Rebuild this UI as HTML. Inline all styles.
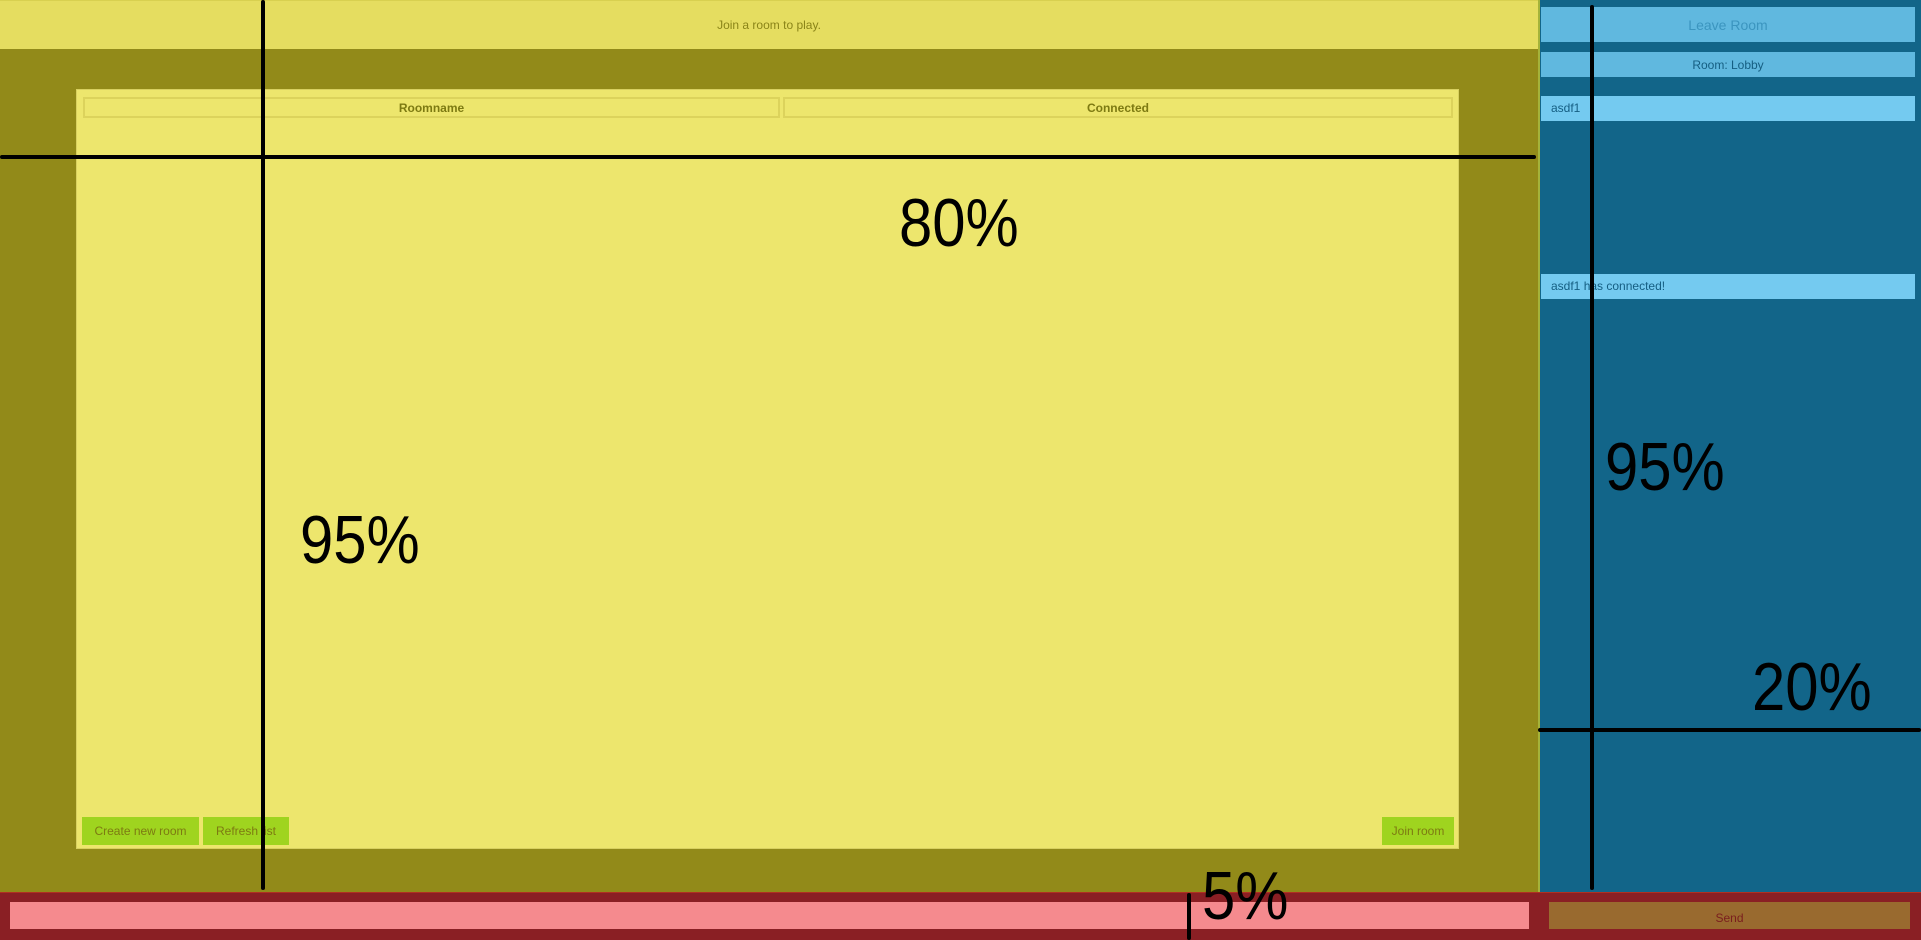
<!DOCTYPE html>
<html><head><meta charset="utf-8"><style>
*{margin:0;padding:0;box-sizing:border-box}
body{width:1921px;height:940px;overflow:hidden;position:relative;font-family:"Liberation Sans",sans-serif;background:#928a19}
div{position:absolute}
.c{display:flex;align-items:center;justify-content:center}
.big{font-size:68px;color:#000;line-height:1;position:absolute;transform:scaleX(0.88);transform-origin:0 0}
.ln{background:#000;position:absolute;border-radius:2px}
</style></head><body>
<div class="c" style="left:0;top:0;width:1538px;height:49px;background:#e5dd60;color:#8a8418;font-size:12px;border-top:1px solid #d8d050">Join a room to play.</div>
<div style="left:0;top:49px;width:1538px;height:843px;background:#928a19"></div>
<div style="left:76px;top:89px;width:1383px;height:760px;background:#ede66d;border:1px solid #d8d060">
  <div class="c" style="left:6px;top:7px;width:697px;height:21px;border:2px solid #dcd35c;color:#7d7a12;font-weight:bold;font-size:12px">Roomname</div>
  <div class="c" style="left:706px;top:7px;width:670px;height:21px;border:2px solid #dcd35c;color:#7d7a12;font-weight:bold;font-size:12px">Connected</div>
  <div class="c" style="left:5px;top:727px;width:117px;height:28px;background:#9fd41f;color:#7d7a12;font-size:12px">Create new room</div>
  <div class="c" style="left:126px;top:727px;width:86px;height:28px;background:#9fd41f;color:#7d7a12;font-size:12px">Refresh list</div>
  <div class="c" style="left:1305px;top:727px;width:72px;height:28px;background:#9fd41f;color:#7d7a12;font-size:12px">Join room</div>
</div>
<div style="left:1538px;top:0;width:383px;height:892px;background:#126589;border-left:2px solid #a5b33a">
  <div class="c" style="left:1px;top:7px;width:374px;height:35px;background:#60b8df;color:#3b95bf;font-size:14px">Leave Room</div>
  <div class="c" style="left:1px;top:52px;width:374px;height:25px;background:#60b8df;color:#155e82;font-size:12px">Room: Lobby</div>
  <div style="left:1px;top:96px;width:374px;height:25px;background:#74caf0;color:#155e82;font-size:12px;line-height:25px;padding-left:10px">asdf1</div>
  <div style="left:1px;top:274px;width:374px;height:25px;background:#74caf0;color:#155e82;font-size:12px;line-height:25px;padding-left:10px">asdf1 has connected!</div>
</div>
<div style="left:0;top:892px;width:1921px;height:48px;background:#8a1f24;border-top:1px solid #b03020"></div>
<div style="left:10px;top:902px;width:1519px;height:27px;background:#f58a8e"></div>
<div class="c" style="left:1549px;top:902px;width:361px;height:27px;background:#996a2f;color:#7a1e1e;font-size:12px;padding-top:4px">Send</div>

<div class="ln" style="left:261px;top:0;width:4px;height:890px"></div>
<div class="ln" style="left:0;top:155px;width:1536px;height:4px"></div>
<div class="ln" style="left:1590px;top:5px;width:4px;height:885px"></div>
<div class="ln" style="left:1538px;top:728px;width:383px;height:4px"></div>
<div class="ln" style="left:1187px;top:893px;width:4px;height:47px"></div>
<div class="big" style="left:899px;top:189px">80%</div>
<div class="big" style="left:300px;top:506px">95%</div>
<div class="big" style="left:1605px;top:433px">95%</div>
<div class="big" style="left:1752px;top:653px">20%</div>
<div class="big" style="left:1202px;top:862px">5%</div>
</body></html>
